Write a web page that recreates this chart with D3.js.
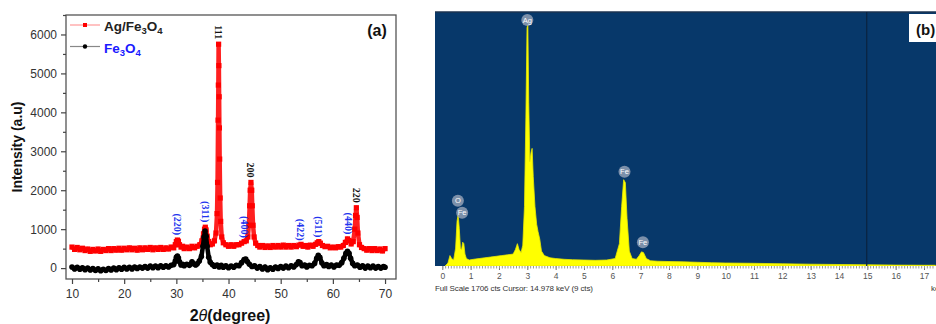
<!DOCTYPE html>
<html>
<head>
<meta charset="utf-8">
<script src="https://cdn.jsdelivr.net/npm/d3@7"></script>
<style>
  body { margin: 0; background: #fff; }
  svg { display: block; font-family: Arial, "Liberation Sans", sans-serif; }
</style>
</head>
<body>
<script>
// ---- panel (a): XRD patterns [2theta, intensity] ----
const agFe3O4 = [
  [10.0,540],[10.5,480],[11.0,530],[11.5,470],[12.0,510],[12.5,450],[13.0,490],[13.5,430],[14.0,480],[14.5,440],
  [15.0,490],[15.5,430],[16.0,480],[16.5,450],[17.0,500],[17.5,450],[18.0,500],[18.5,460],[19.0,510],[19.5,460],
  [20.0,510],[20.5,470],[21.0,520],[21.5,470],[22.0,510],[22.5,460],[23.0,520],[23.5,470],[24.0,520],[24.5,480],
  [25.0,530],[25.5,470],[26.0,520],[26.5,480],[27.0,530],[27.5,480],[28.0,520],[28.5,490],[29.0,540],[29.5,520],
  [29.8,600],[30.0,680],[30.2,720],[30.4,690],[30.6,600],[30.9,540],[31.2,560],[31.5,500],[32.0,540],[32.5,500],
  [33.0,560],[33.5,520],[34.0,560],[34.5,600],[34.9,700],[35.2,880],[35.4,1000],[35.55,1050],[35.7,980],[35.9,820],
  [36.2,680],[36.5,600],[36.9,620],[37.3,700],[37.6,900],[37.8,1400],[37.9,2200],[38.0,3800],[38.05,4700],[38.1,5750],
  [38.15,5200],[38.2,4400],[38.25,3600],[38.3,2800],[38.4,1800],[38.5,1200],[38.7,800],[39.0,650],[39.5,600],[40.0,560],
  [40.5,600],[41.0,560],[41.5,600],[42.0,600],[42.5,640],[43.0,680],[43.4,700],[43.7,800],[43.9,1100],[44.05,1600],
  [44.15,2000],[44.3,2200],[44.45,2000],[44.55,1600],[44.7,1100],[44.9,800],[45.2,640],[45.6,580],[46.0,540],[46.5,580],
  [47.0,530],[47.5,570],[48.0,530],[48.5,580],[49.0,540],[49.5,580],[50.0,540],[50.5,590],[51.0,540],[51.5,580],
  [52.0,540],[52.5,580],[53.0,550],[53.5,590],[53.9,610],[54.3,560],[54.8,580],[55.2,540],[55.7,590],[56.2,560],
  [56.7,610],[57.0,650],[57.3,680],[57.6,640],[58.0,580],[58.5,550],[59.0,560],[59.5,520],[60.0,540],[60.5,520],
  [61.0,550],[61.5,540],[62.0,580],[62.4,660],[62.8,750],[63.1,710],[63.5,620],[63.9,680],[64.2,1000],[64.35,1350],
  [64.5,1550],[64.65,1300],[64.8,900],[65.1,600],[65.5,530],[66.0,500],[66.5,460],[67.0,500],[67.5,450],[68.0,500],
  [68.5,450],[69.0,490],[69.5,440],[70.0,500]
];
const fe3O4 = [
  [10.0,30],[10.5,-20],[11.0,20],[11.5,-30],[12.0,10],[12.5,-40],[13.0,0],[13.5,-50],[14.0,-10],[14.5,-60],
  [15.0,-20],[15.5,-70],[16.0,-30],[16.5,-60],[17.0,-10],[17.5,-50],[18.0,0],[18.5,-40],[19.0,10],[19.5,-30],
  [20.0,20],[20.5,-20],[21.0,20],[21.5,-20],[22.0,30],[22.5,-10],[23.0,30],[23.5,0],[24.0,40],[24.5,0],
  [25.0,50],[25.5,10],[26.0,50],[26.5,10],[27.0,60],[27.5,20],[28.0,60],[28.5,30],[29.0,70],[29.5,90],
  [29.8,180],[30.0,280],[30.2,310],[30.4,260],[30.6,160],[30.9,80],[31.2,100],[31.5,60],[32.0,100],[32.5,70],
  [33.0,160],[33.3,110],[33.7,80],[34.0,110],[34.4,180],[34.8,300],[35.1,560],[35.3,800],[35.5,950],[35.7,820],
  [35.9,560],[36.2,280],[36.5,150],[36.9,90],[37.3,50],[37.8,80],[38.2,30],[38.6,70],[39.0,20],[39.5,60],
  [40.0,10],[40.5,50],[41.0,20],[41.5,70],[42.0,60],[42.5,140],[43.0,220],[43.3,230],[43.6,170],[44.0,100],
  [44.5,40],[45.0,60],[45.5,0],[46.0,40],[46.5,-20],[47.0,30],[47.5,-40],[48.0,10],[48.5,-30],[49.0,30],
  [49.5,-10],[50.0,40],[50.5,0],[51.0,50],[51.5,10],[52.0,60],[52.5,30],[53.0,90],[53.4,160],[53.7,140],
  [54.1,60],[54.6,80],[55.0,30],[55.5,70],[56.0,60],[56.5,120],[56.9,250],[57.2,330],[57.5,280],[57.9,130],
  [58.3,60],[58.8,90],[59.2,40],[59.7,80],[60.2,30],[60.7,80],[61.2,70],[61.7,140],[62.1,250],[62.5,380],
  [62.8,430],[63.1,380],[63.4,250],[63.8,120],[64.2,60],[64.7,80],[65.2,20],[65.7,60],[66.2,0],[66.7,50],
  [67.2,10],[67.7,50],[68.2,0],[68.7,40],[69.2,0],[69.7,40],[70.0,20]
];
// peak labels: text, 2theta, intensity of the peak it sits on, black = Ag / blue = Fe3O4
const peakText  = ["(220)", "(311)", "111", "(400)", "200", "(422)", "(511)", "(440)", "220"];
const peakTheta = [30.2, 35.5, 38.1, 43.0, 44.3, 53.8, 57.3, 62.9, 64.5];
const peakInt   = [720, 1050, 5750, 650, 2200, 580, 660, 740, 1550];
const peakIsAg  = [false, false, true, false, true, false, false, false, true];
const xTicksA = [10, 20, 30, 40, 50, 60, 70];
const yTicksA = [0, 1000, 2000, 3000, 4000, 5000, 6000];

// ---- panel (b): EDS spectrum [keV, counts] ----
const edsSpectrum = [
  [0.10,0],[0.20,20],[0.27,70],[0.33,50],[0.40,40],[0.47,120],[0.52,300],[0.56,345],[0.60,250],[0.64,120],
  [0.68,110],[0.72,160],[0.76,150],[0.80,80],[0.85,50],[0.95,40],[1.1,45],[1.3,50],[1.5,55],[1.7,60],
  [1.9,65],[2.1,70],[2.3,75],[2.5,80],[2.58,110],[2.65,150],[2.71,110],[2.78,90],[2.84,140],[2.90,400],
  [2.95,1000],[2.99,1600],[3.02,1620],[3.05,1100],[3.09,700],[3.13,760],[3.17,790],[3.21,600],[3.27,400],[3.33,280],
  [3.38,230],[3.44,180],[3.50,100],[3.6,70],[3.8,55],[4.0,50],[4.3,45],[4.6,42],[5.0,40],[5.4,38],
  [5.8,40],[6.1,50],[6.25,150],[6.33,400],[6.40,580],[6.46,560],[6.52,320],[6.60,100],[6.70,50],[6.85,45],
  [6.95,70],[7.03,95],[7.10,90],[7.20,50],[7.35,35],[7.6,32],[8.0,30],[8.5,28],[9.0,25],[9.5,22],
  [10.0,20],[11.0,18],[12.0,15],[13.0,12],[14.0,10],[15.0,8],[16.0,6],[17.0,5],[17.4,5]
];
const edsElem = ["Ag", "O", "Fe", "Fe", "Fe"];
const edsElemKeV = [3.0, 0.55, 0.70, 6.43, 7.08];
const edsElemCts = [1652, 438, 358, 633, 159];
const edsFullScale = 1706;
const edsCursor = 14.978;
const edsTicks = d3.range(0, 18);

const width = 936, height = 324;
const svg = d3.select("body").append("svg")
  .attr("width", width).attr("height", height)
  .attr("viewBox", [0, 0, width, height]);
svg.append("rect").attr("width", width).attr("height", height).attr("fill", "#fff");

// ================= panel (a) =================
const A = { left: 66, right: 396, top: 15, bottom: 279 };
const xA = d3.scaleLinear().domain([8.85, 72.1]).range([A.left, A.right]);
const yA = d3.scaleLinear().domain([-280, 6500]).range([A.bottom, A.top]);

const gA = svg.append("g");
gA.append("rect")
  .attr("x", A.left).attr("y", A.top)
  .attr("width", A.right - A.left).attr("height", A.bottom - A.top)
  .attr("fill", "none").attr("stroke", "#555").attr("stroke-width", 1.3);

function styleAxis(g) {
  g.select(".domain").remove();
  g.selectAll(".tick line").attr("stroke", "#444").attr("stroke-width", 1.2);
  g.selectAll(".tick text").attr("fill", "#333").style("font-size", "12px")
    .style("font-family", "Arial, 'Liberation Sans', sans-serif");
}
gA.append("g").attr("transform", `translate(0,${A.bottom})`)
  .call(d3.axisBottom(xA).tickValues(xTicksA).tickSize(5).tickPadding(5))
  .call(styleAxis);
gA.append("g").attr("transform", `translate(0,${A.bottom})`)
  .call(d3.axisBottom(xA).tickValues(xTicksA.slice(0, -1).map(d => d + 5)).tickSize(3).tickFormat(""))
  .call(styleAxis);
gA.append("g").attr("transform", `translate(${A.left},0)`)
  .call(d3.axisLeft(yA).tickValues(yTicksA).tickFormat(d3.format("d")).tickSize(5).tickPadding(4))
  .call(styleAxis);
gA.append("g").attr("transform", `translate(${A.left},0)`)
  .call(d3.axisLeft(yA).tickValues(yTicksA.map(d => d + 500)).tickSize(3).tickFormat(""))
  .call(styleAxis);

svg.append("clipPath").attr("id", "clipA").append("rect")
  .attr("x", A.left + 1).attr("y", A.top + 1)
  .attr("width", A.right - A.left - 2).attr("height", A.bottom - A.top - 2);

const lineA = d3.line().x(d => xA(d[0])).y(d => yA(d[1]));
const plotA = gA.append("g").attr("clip-path", "url(#clipA)");

// Ag/Fe3O4 (red squares)
plotA.append("path").attr("d", lineA(agFe3O4))
  .attr("fill", "none").attr("stroke", "#ff2020").attr("stroke-width", 4.5)
  .attr("stroke-linejoin", "round");
plotA.append("g").selectAll("rect").data(agFe3O4).join("rect")
  .attr("x", d => xA(d[0]) - 2.6).attr("y", d => yA(d[1]) - 2.6)
  .attr("width", 5.2).attr("height", 5.2).attr("fill", "#ff0000");

// Fe3O4 (black circles)
plotA.append("path").attr("d", lineA(fe3O4))
  .attr("fill", "none").attr("stroke", "#000").attr("stroke-width", 4.5)
  .attr("stroke-linejoin", "round");
plotA.append("g").selectAll("circle").data(fe3O4).join("circle")
  .attr("cx", d => xA(d[0])).attr("cy", d => yA(d[1])).attr("r", 2.8).attr("fill", "#000");

// peak labels, rotated to read downwards, ending just above their peak
gA.append("g").selectAll("text").data(peakText).join("text")
  .attr("transform", (d, i) => `translate(${xA(peakTheta[i])},${yA(peakInt[i]) - 5}) rotate(90)`)
  .attr("text-anchor", "end")
  .attr("dominant-baseline", "central")
  .style("font-family", "'Liberation Serif', 'Times New Roman', serif")
  .style("font-weight", "bold").style("font-size", "10px")
  .attr("fill", (d, i) => peakIsAg[i] ? "#111" : "#2233ee")
  .text(d => d);

// legend
const legend = gA.append("g");
const legendItems = [
  { name: ["Ag/Fe", "3", "O", "4"], color: "#ff0000", line: "#ff9a9a", text: "#222", shape: "square" },
  { name: ["Fe", "3", "O", "4"], color: "#000", line: "#888", text: "#1a1aff", shape: "circle" }
];
legendItems.forEach((it, i) => {
  const y = 25 + i * 21.5;
  legend.append("line").attr("x1", 70).attr("x2", 100).attr("y1", y).attr("y2", y)
    .attr("stroke", it.line).attr("stroke-width", 1.2);
  if (it.shape === "square")
    legend.append("rect").attr("x", 83).attr("y", y - 2).attr("width", 4).attr("height", 4).attr("fill", it.color);
  else
    legend.append("circle").attr("cx", 85).attr("cy", y).attr("r", 2.2).attr("fill", it.color);
  const t = legend.append("text").attr("x", 104).attr("y", y + 6)
    .attr("fill", it.text).style("font-weight", "bold").style("font-size", "13.5px");
  it.name.forEach((s, k) => {
    const sub = k % 2 === 1;
    t.append("tspan").text(s)
      .attr("dy", sub ? 3 : (k === 0 ? 0 : -3))
      .style("font-size", sub ? "9.5px" : "13.5px");
  });
});

gA.append("text").attr("x", 377).attr("y", 36).attr("text-anchor", "middle")
  .style("font-weight", "bold").style("font-size", "16px").attr("fill", "#111").text("(a)");

gA.append("text")
  .attr("transform", `translate(22,${(A.top + A.bottom) / 2}) rotate(-90)`)
  .attr("text-anchor", "middle")
  .style("font-weight", "bold").style("font-size", "14px").attr("fill", "#111")
  .text("Intensity (a.u)");

const xl = gA.append("text").attr("x", 230).attr("y", 321).attr("text-anchor", "middle")
  .style("font-weight", "bold").style("font-size", "16px").attr("fill", "#111");
xl.append("tspan").text("2");
xl.append("tspan").text("θ").style("font-style", "italic").style("font-weight", "normal");
xl.append("tspan").text("(degree)");

// ================= panel (b) =================
const B = { left: 435, right: 936, top: 12, bottom: 266 };
const xB = d3.scaleLinear().domain([0, 17]).range([442.3, 924]);
const yB = d3.scaleLinear().domain([0, edsFullScale]).range([B.bottom, B.top]);
const gB = svg.append("g");

svg.append("clipPath").attr("id", "clipB").append("rect")
  .attr("x", B.left).attr("y", B.top).attr("width", B.right - B.left).attr("height", B.bottom - B.top);

gB.append("rect").attr("x", B.left).attr("y", B.top)
  .attr("width", B.right - B.left).attr("height", B.bottom - B.top).attr("fill", "#07386a");
gB.append("line").attr("x1", B.left).attr("x2", B.right).attr("y1", B.top).attr("y2", B.top)
  .attr("stroke", "#1c3350").attr("stroke-width", 1.5);

const areaB = d3.area().x(d => xB(d[0])).y0(yB(0)).y1(d => yB(d[1]));
gB.append("path").attr("clip-path", "url(#clipB)").attr("d", areaB(edsSpectrum))
  .attr("fill", "#ffff00").attr("stroke", "#e8e800").attr("stroke-width", 0.8);

// cursor
gB.append("line").attr("x1", xB(edsCursor)).attr("x2", xB(edsCursor))
  .attr("y1", B.top).attr("y2", B.bottom).attr("stroke", "#0b2340").attr("stroke-width", 1.2);

// element markers
const em = gB.append("g").selectAll("g").data(edsElem).join("g")
  .attr("transform", (d, i) => `translate(${xB(edsElemKeV[i])},${yB(edsElemCts[i])})`);
em.append("circle").attr("r", 6).attr("fill", "#9aa6ba").attr("fill-opacity", 0.8);
em.append("text").attr("text-anchor", "middle").attr("dy", "0.35em")
  .attr("fill", "#fff").style("font-size", "7.5px").text(d => d);

// ruler axis
gB.append("g").attr("transform", `translate(0,${B.bottom})`)
  .call(d3.axisBottom(xB).tickValues(edsTicks).tickSize(4).tickPadding(3))
  .call(g => {
    g.select(".domain").remove();
    g.selectAll(".tick line").attr("stroke", "#777");
    g.selectAll(".tick text").attr("fill", "#555").style("font-size", "8.5px");
  });
gB.append("g").attr("transform", `translate(0,${B.bottom})`)
  .call(d3.axisBottom(xB).tickValues(d3.range(0, 174).map(d => d / 10)).tickSize(2.5).tickFormat(""))
  .call(g => { g.select(".domain").remove(); g.selectAll(".tick line").attr("stroke", "#999"); });

gB.append("text").attr("x", 435).attr("y", 291)
  .attr("fill", "#333").style("font-size", "8px").attr("textLength", 158)
  .text(`Full Scale ${edsFullScale} cts  Cursor: ${edsCursor} keV (9 cts)`);
gB.append("text").attr("x", 931).attr("y", 291)
  .attr("fill", "#333").style("font-size", "8px").text("keV");

// (b) tag
gB.append("rect").attr("x", 909).attr("y", 14).attr("width", 40).attr("height", 28).attr("fill", "#fff");
gB.append("text").attr("x", 916).attr("y", 35)
  .style("font-weight", "bold").style("font-size", "15px").attr("fill", "#111").text("(b)");
</script>
</body>
</html>
